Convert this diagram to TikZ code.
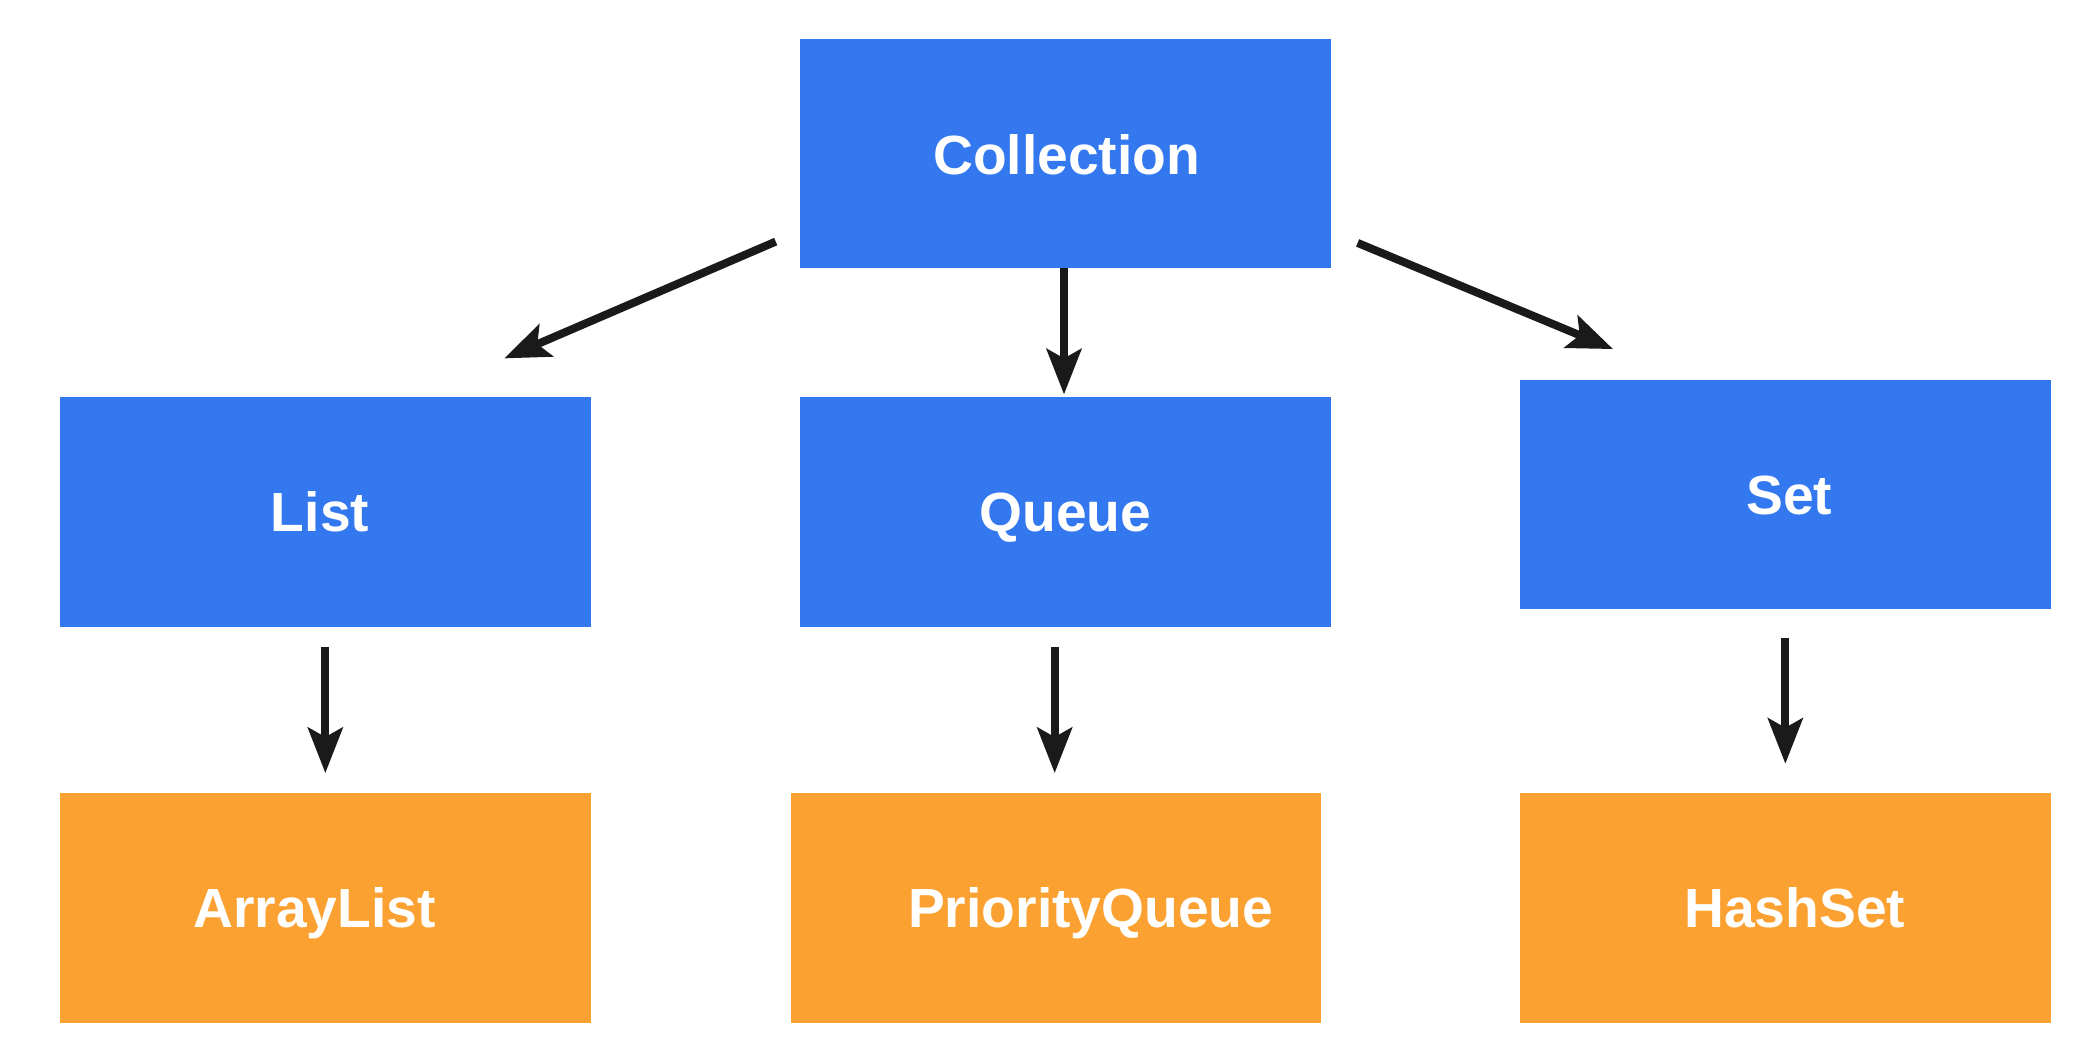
\documentclass[tikz,border=0pt]{standalone}
\usepackage{fontspec}
\setmainfont{Liberation Sans}
\usetikzlibrary{arrows.meta,calc}
\definecolor{boxblue}{RGB}{52,120,240}
\definecolor{boxorange}{RGB}{251,161,49}
\definecolor{arrowblack}{RGB}{26,26,26}
\tikzset{
  box/.style={rectangle, minimum width=398pt, minimum height=172pt, inner sep=0pt, draw=none},
  bluebox/.style={box, fill=boxblue},
  orangebox/.style={box, fill=boxorange},
  boxtext/.style={text=white, font=\fontsize{41.4}{48}\selectfont\bfseries, inner sep=0pt, text height=29.6pt, text depth=0pt},
  arr/.style={draw=arrowblack, line width=6pt, -{Stealth[length=34pt,width=26pt,inset=7pt]}}
}
\begin{document}
\begin{tikzpicture}[x=1pt,y=-1pt]
\useasboundingbox (0,0) rectangle (1569,796.5);
\fill[white] (0,0) rectangle (1569,796.5);
% boxes
\node[bluebox] (coll) at (799,115) {};
\node[bluebox] (list) at (244,384) {};
\node[bluebox] (queue) at (799,384) {};
\node[bluebox] (set) at (1339,371) {};
\node[orangebox] (alist) at (244,681) {};
\node[orangebox] (pq) at (792,681) {};
\node[orangebox] (hset) at (1339,681) {};
% texts
\node[boxtext] (tcoll) at ($(coll.center)+(1,1)$) {Collection};
\node[boxtext] (tlist) at ($(list.center)+(-4,0)$) {List};
\node[boxtext] (tqueue) at ($(queue.center)+(0,0)$) {Queue};
\node[boxtext] (tset) at ($(set.center)+(3,0)$) {Set};
\node[boxtext] (talist) at ($(alist.center)+(-8,0)$) {ArrayList};
\node[boxtext] (tpq) at ($(pq.center)+(26,0)$) {PriorityQueue};
\node[boxtext] (thset) at ($(hset.center)+(7,0)$) {HashSet};
% connectors
\draw[arr] ($(coll.south west)+(-18,-20)$) -- ($(list.north east)+(-65,-29)$);
\draw[arr] ($(coll.south)+(-1,0)$) -- ($(queue.north)+(-1,-2)$);
\draw[arr] ($(coll.south east)+(20,-19)$) -- ($(set.north west)+(70,-23)$);
\draw[arr] ($(list.south)+(0,15)$) -- ($(alist.north)+(0,-15)$);
\draw[arr] ($(queue.south)+(-8,15)$) -- ($(pq.north)+(-1,-15)$);
\draw[arr] ($(set.south)+(0,21)$) -- ($(hset.north)+(0,-22)$);
\end{tikzpicture}
\end{document}
